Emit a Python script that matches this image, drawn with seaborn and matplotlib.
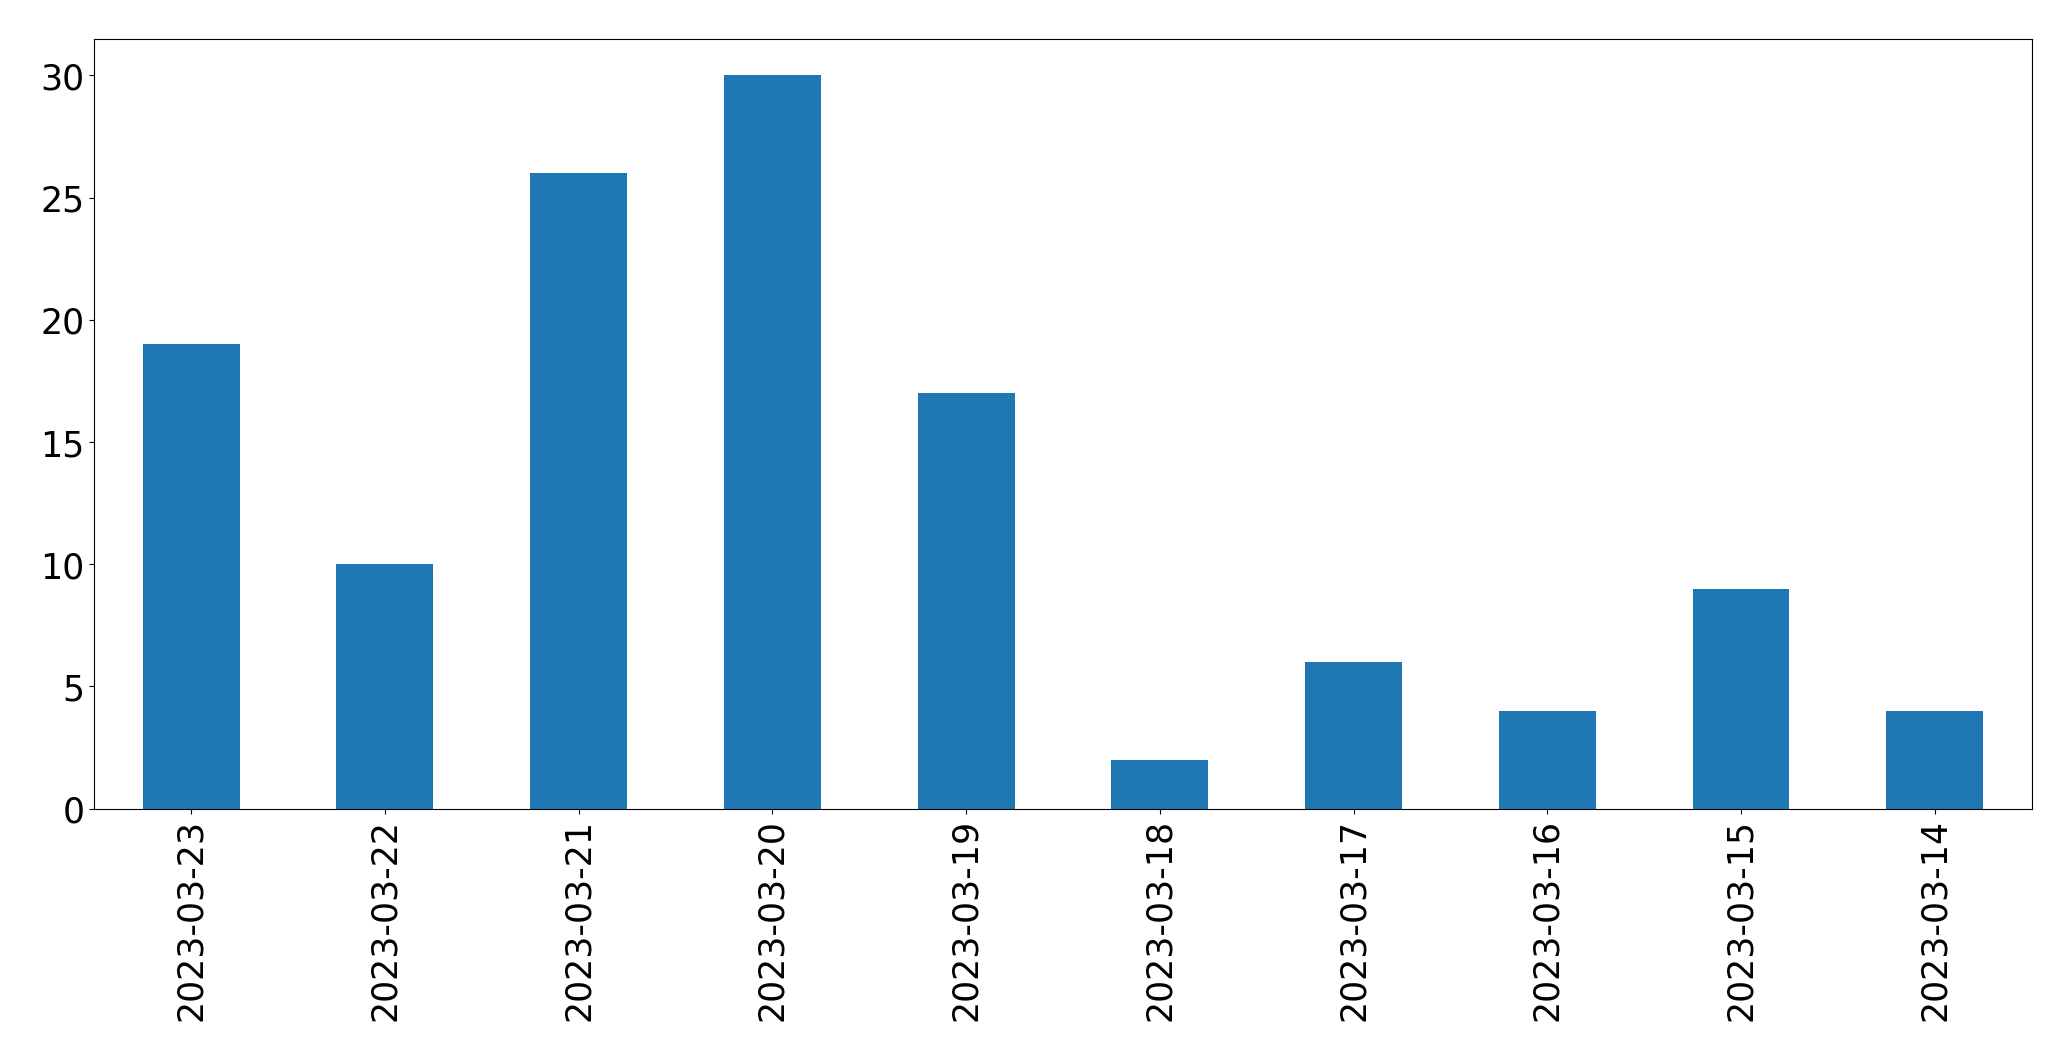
import pandas as pd
import matplotlib.pyplot as plt
import seaborn as sns

dates = ["2023-03-23", "2023-03-22", "2023-03-21", "2023-03-20", "2023-03-19",
         "2023-03-18", "2023-03-17", "2023-03-16", "2023-03-15", "2023-03-14"]
counts = [19, 10, 26, 30, 17, 2, 6, 4, 9, 4]

df = pd.DataFrame({"date": dates, "count": counts})

fig, ax = plt.subplots(figsize=(20.71, 10.605), dpi=100)
sns.barplot(data=df, x="date", y="count", color="#1f77b4", width=0.5,
            saturation=1, ax=ax)

ax.set_xlim(-0.5, len(dates) - 0.5)
ax.set_xlabel("")
ax.set_ylabel("")
ax.tick_params(axis="both", labelsize=25)
ax.tick_params(axis="x", labelrotation=90)

fig.subplots_adjust(left=0.0455, right=0.981, top=0.963, bottom=0.237)
fig.savefig("out.png", dpi=100)
